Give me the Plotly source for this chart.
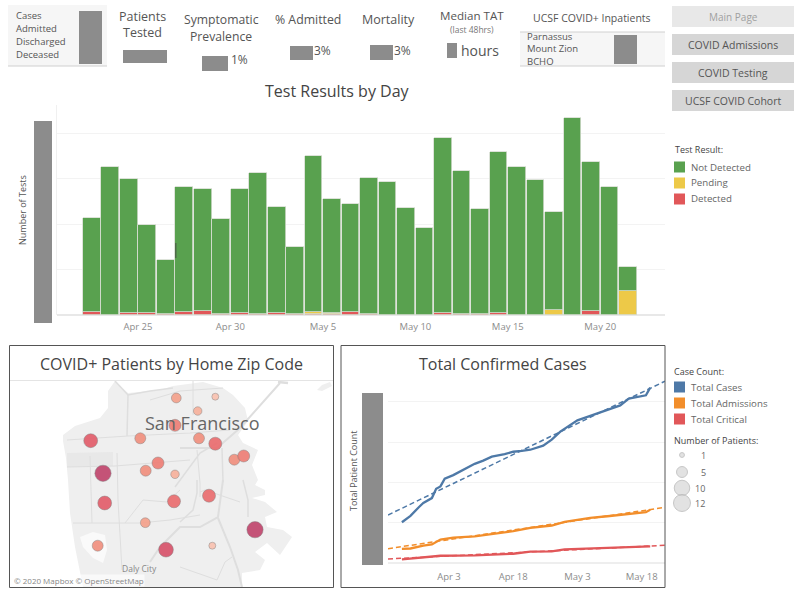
import plotly.graph_objects as go

W, H = 800, 596

# Test Results by Day
bar_days = ["2020-04-%02d" % d for d in range(22, 31)] + ["2020-05-%02d" % d for d in range(1, 22)]
bar_total = [107, 163, 150, 99, 61, 141, 138, 106, 139, 156, 119, 75, 175, 128, 122,
             151, 146, 118, 96, 194, 158, 117, 179, 163, 148, 113, 216, 168, 141, 53]
bar_detected = [3.5, 0.5, 2.5, 2.5, 1, 3, 4, 0.7, 2, 0.7, 2, 0.7, 1, 1, 3,
                1, 0, 0, 0, 2, 1, 1, 2, 0.5, 0, 0, 0, 4, 0.5, 0.5]
bar_pending = [0, 0, 0, 0, 0, 0, 0, 0, 0, 0, 0, 0, 2, 1, 0,
               0, 0, 0, 0, 0, 0, 0, 0, 0, 0, 5, 0, 0, 0, 26]
bar_not_detected = [t - d - p for t, d, p in zip(bar_total, bar_detected, bar_pending)]
bar_ticks = ["2020-04-25", "2020-04-30", "2020-05-05", "2020-05-10", "2020-05-15", "2020-05-20"]
bar_tick_labels = ["Apr 25", "Apr 30", "May 5", "May 10", "May 15", "May 20"]

# Total Confirmed Cases
cases_days = ["2020-03-23", "2020-03-25", "2020-03-27", "2020-03-28", "2020-03-30", "2020-03-31",
              "2020-04-01", "2020-04-02", "2020-04-04", "2020-04-06", "2020-04-09", "2020-04-11",
              "2020-04-13", "2020-04-16", "2020-04-18", "2020-04-20", "2020-04-22", "2020-04-25",
              "2020-04-27", "2020-04-29", "2020-05-01", "2020-05-03", "2020-05-06", "2020-05-08",
              "2020-05-10", "2020-05-13", "2020-05-15", "2020-05-17", "2020-05-19", "2020-05-20"]
cases_total = [101, 117, 139, 149, 161, 184, 190, 209, 218, 230, 246, 254, 264, 270, 276,
               278, 281, 291, 306, 326, 340, 354, 365, 372, 380, 391, 408, 412, 416, 435]
adm_days = ["2020-03-23", "2020-03-25", "2020-03-28", "2020-03-30", "2020-04-01", "2020-04-04",
            "2020-04-09", "2020-04-13", "2020-04-18", "2020-04-22", "2020-04-25", "2020-04-27",
            "2020-04-30", "2020-05-03", "2020-05-06", "2020-05-10", "2020-05-15", "2020-05-19",
            "2020-05-20"]
adm_total = [35, 36, 43, 46, 58, 63, 66, 72, 79, 87, 91, 93, 102, 107, 112, 116, 122, 126, 132]
crit_days = ["2020-03-23", "2020-03-25", "2020-03-30", "2020-04-01", "2020-04-09", "2020-04-18",
             "2020-04-22", "2020-04-27", "2020-04-30", "2020-05-03", "2020-05-06", "2020-05-13",
             "2020-05-20"]
crit_total = [9, 11, 15, 18, 19, 23, 28, 29, 34, 35, 36, 37, 41]
trend_days = ["2020-03-19 18:00", "2020-05-23 11:00"]
trend_cases = [119, 451]
trend_adm = [35.5, 138]
trend_crit = [10, 44]
line_ticks = ["2020-04-03", "2020-04-18", "2020-05-03", "2020-05-18"]
line_tick_labels = ["Apr 3", "Apr 18", "May 3", "May 18"]

# Zip code map, in map units
zip_x = [176.3, 215.3, 197.7, 175, 90.7, 140.3, 199, 215.3, 234.3, 243.7, 158,
         145.7, 103, 175, 104.7, 174, 209, 145.3, 97.7, 212.3, 166, 255]
zip_y = [398, 396.7, 411, 425.3, 440.7, 438.3, 438.3, 443.7, 459.7, 456, 463,
         470.7, 473.3, 474.3, 503, 501.3, 495.7, 522.7, 545.7, 545.7, 549.7, 529.7]
zip_patients = [4, 2, 3, 6, 8, 5, 5, 7, 5, 6, 6, 5, 11, 3, 8, 7, 7, 4, 5, 2, 9, 11]

land_x = [115, 108, 108, 100, 75, 63, 63, 66, 68, 70, 75, 83, 242, 242, 260, 265, 255, 267, 280, 292,
          283, 267, 265, 277, 265, 252, 265, 265, 255, 258, 252, 258, 243, 238, 248, 245, 233, 223,
          203, 173, 160, 147, 128, 115]
land_y = [381, 391, 408, 418, 426, 435, 441, 458, 480, 513, 547, 587, 587, 573, 570, 560, 552, 543, 555, 537,
          530, 527, 517, 512, 502, 498, 495, 490, 485, 480, 465, 450, 443, 435, 421, 408, 395, 388,
          382, 386, 390, 391, 393, 381]
park_x = [67, 113, 113, 67, 67]
park_y = [453, 452, 466, 467, 453]
lake_x = [80, 93, 105, 107, 103, 93, 83, 80]
lake_y = [537, 532, 535, 550, 563, 558, 547, 537]
island_x = [317, 322, 330, 332, 322, 317]
island_y = [390, 385, 382, 386, 391, 390]
roads = [
    ([115, 128, 150, 173], [381, 395, 391, 388], 1.5),
    ([128, 127], [395, 436], 1.5),
    ([67, 128, 190, 230], [440, 436, 433, 430], 1.2),
    ([67, 115, 190], [467, 466, 460], 1),
    ([90, 92], [456, 523], 1),
    ([117, 118, 122], [453, 500, 570], 1),
    ([73, 140, 170, 200], [523, 523, 520, 515], 1),
    ([125, 143, 167, 180], [523, 500, 502, 490], 1),
    ([223, 218, 200, 180, 160, 150], [480, 517, 527, 527, 547, 562], 2),
    ([218, 230, 238, 242], [518, 547, 570, 587], 2),
    ([243, 248, 248], [480, 500, 517], 1.5),
    ([180, 193, 197, 197], [522, 510, 493, 480], 1.5),
    ([222, 223, 223], [448, 475, 482], 1.5),
    ([197, 200, 200], [450, 483, 497], 1),
    ([180, 217, 240, 280], [448, 448, 428, 383], 2),
    ([175, 200, 217], [487, 453, 443], 1.5),
    ([193, 193], [381, 415], 1),
    ([150, 180, 223], [400, 391, 388], 1),
    ([180, 217, 225, 232], [567, 580, 562, 557], 1),
    ([240, 205, 200], [502, 490, 492], 1),
    ([278, 288], [382, 383], 2.5),
]
# Size legend
legend_patients = [1, 5, 10, 12]
legend_y = [455, 472, 488, 503]
legend_x = [682, 682, 682, 682]


def px(x):
    return x / W


def py(y):
    return 1 - y / H


def note(text, x, y, size=10, color="#555555", anchor="center", angle=0):
    annotations.append(dict(text=text, x=px(x), y=py(y), xref="paper", yref="paper",
                            xanchor=anchor, yanchor="middle", showarrow=False, textangle=angle,
                            font=dict(size=size, color=color), align=anchor if anchor == "left" else "center"))


def box(x0, y0, x1, y1, fill=None, line=None, layer="below"):
    shapes.append(dict(type="rect", xref="paper", yref="paper", x0=px(x0), x1=px(x1),
                       y0=py(y0), y1=py(y1), layer=layer,
                       fillcolor=fill if fill else "rgba(0,0,0,0)",
                       line=dict(color=line, width=1) if line else dict(width=0)))


def hidden(x0, y0, x1, y1):
    box(x0, y0, x1, y1, fill="#8c8c8c", layer="above")


annotations = []
shapes = []
fig = go.Figure()

# bars
for name, vals, col in [("Detected", bar_detected, "#e15759"),
                        ("Pending", bar_pending, "#edc948"),
                        ("Not Detected", bar_not_detected, "#59a14f")]:
    fig.add_trace(go.Bar(x=bar_days, y=vals, name=name, marker_color=col,
                         marker_line=dict(color="#d4dcd0", width=0.8),
                         xperiod=86400000, xperiodalignment="middle",
                         width=0.96 * 86400000, xaxis="x", yaxis="y"))

# lines
for days, vals, col in [(cases_days, cases_total, "#4e79a7"),
                        (adm_days, adm_total, "#f28e2b"),
                        (crit_days, crit_total, "#e15759")]:
    fig.add_trace(go.Scatter(x=days, y=vals, mode="lines", line=dict(color=col, width=2.3),
                             xaxis="x2", yaxis="y2"))
for vals, col in [(trend_cases, "#4e79a7"), (trend_adm, "#f28e2b"), (trend_crit, "#e15759")]:
    fig.add_trace(go.Scatter(x=trend_days, y=vals, mode="lines",
                             line=dict(color=col, width=1.5, dash="5px,3px"),
                             xaxis="x2", yaxis="y2"))

# map
fig.add_trace(go.Scatter(x=land_x, y=land_y, mode="lines", fill="toself", fillcolor="#efefef",
                         line=dict(width=0), xaxis="x3", yaxis="y3"))
fig.add_trace(go.Scatter(x=island_x, y=island_y, mode="lines", fill="toself", fillcolor="#efefef",
                         line=dict(width=0), xaxis="x3", yaxis="y3"))
fig.add_trace(go.Scatter(x=park_x, y=park_y, mode="lines", fill="toself", fillcolor="#e8e8e8",
                         line=dict(width=0), xaxis="x3", yaxis="y3"))
fig.add_trace(go.Scatter(x=lake_x, y=lake_y, mode="lines", fill="toself", fillcolor="#fafafa",
                         line=dict(width=0), xaxis="x3", yaxis="y3"))
for rx, ry, rw in roads:
    fig.add_trace(go.Scatter(x=rx, y=ry, mode="lines", line=dict(color="#dedede", width=rw),
                             xaxis="x3", yaxis="y3"))
fig.add_trace(go.Scatter(
    x=zip_x, y=zip_y, mode="markers", xaxis="x3", yaxis="y3",
    marker=dict(size=zip_patients, sizemode="area", sizeref=0.0832, sizemin=2,
                color=zip_patients, cmin=1, cmax=12, opacity=0.92,
                colorscale=[[0, "#fbd3c4"], [0.25, "#f5a58f"], [0.4, "#f0897a"],
                            [0.6, "#e8636b"], [0.8, "#cf4a6b"], [1, "#b5436f"]],
                line=dict(color="rgba(120,120,120,0.45)", width=1))))

# size legend
fig.add_trace(go.Scatter(x=legend_x, y=legend_y, mode="markers", xaxis="x4", yaxis="y4",
                         marker=dict(size=legend_patients, sizemode="area", sizeref=0.0832,
                                     color="#d6d6d6", line=dict(color="#b0b0b0", width=1))))

# top row
box(8, 5, 107, 66, fill="#f6f6f6")
shapes.append(dict(type="line", xref="paper", yref="paper", x0=px(8), x1=px(107), y0=py(66), y1=py(66),
                   line=dict(color="#d0d0d0", width=1)))
for label, y in zip(["Cases", "Admitted", "Discharged", "Deceased"], [15, 28, 41.5, 54.5]):
    note(label, 14, y, 9.5, "#555555", "left")
hidden(79, 11, 102, 64)

note("Patients", 142, 17, 12.5)
note("Tested", 142, 33, 12.5)
hidden(123, 50, 167, 63)
note("Symptomatic", 221, 20, 12.2)
note("Prevalence", 221, 36, 12.2)
note("1%", 229, 60, 12, anchor="left")
hidden(202, 56, 228, 71)
note("% Admitted", 308, 20, 12.3)
note("3%", 312, 51, 12, anchor="left")
hidden(290, 46, 313, 60)
note("Mortality", 388, 20, 12.5)
note("3%", 392, 51, 12, anchor="left")
hidden(370, 45, 393, 60)
note("Median TAT", 472, 16, 11.6)
note("(last 48hrs)", 472, 30, 8.5, "#777777")
hidden(447, 43, 457, 58)
note("hours", 459, 51, 14, anchor="left")
note("UCSF COVID+ Inpatients", 592, 18, 10.5)
box(520, 32, 665, 66, fill="#f6f6f6")
shapes.append(dict(type="line", xref="paper", yref="paper", x0=px(520), x1=px(665), y0=py(66), y1=py(66),
                   line=dict(color="#d0d0d0", width=1)))
shapes.append(dict(type="line", xref="paper", yref="paper", x0=px(520), x1=px(665), y0=py(32), y1=py(32),
                   line=dict(color="#d0d0d0", width=1)))
note("Parnassus<br>Mount Zion<br>BCHO", 525, 49, 9.5, anchor="left")
hidden(614, 35, 637, 64)

box(672, 6, 794, 27, fill="#e8e8e8")
note("Main Page", 733, 17, 10, "#a0a0a0")
for label, y0 in zip(["COVID Admissions", "COVID Testing", "UCSF COVID Cohort"], [34, 62, 90]):
    box(672, y0, 794, y0 + 21, fill="#d6d6d6")
    note(label, 733, y0 + 11, 10.5, "#555555")

# bar panel text
note("Test Results by Day", 337, 91, 16, "#444444")
note("Number of Tests", 22, 210, 9, angle=-90)
hidden(34, 121, 52, 323)
box(175, 243, 176.5, 258, fill="#4f6b4a", layer="above")
note("Test Result:", 673, 149, 9, "#444444", "left")
for label, col, y in zip(["Not Detected", "Pending", "Detected"],
                         ["#59a14f", "#edc948", "#e15759"], [167, 183, 199]):
    box(674, y - 5.5, 685, y + 5.5, fill=col)
    note(label, 689, y, 9.7, "#666666", "left")

# bottom panels
box(9.5, 345.5, 333.5, 587.5, line="#555555", layer="above")
box(341, 345.5, 665, 587.5, line="#555555", layer="above")
shapes.append(dict(type="line", xref="paper", yref="paper", x0=px(10), x1=px(333), y0=py(380.5), y1=py(380.5),
                   line=dict(color="#e4e4e4", width=1)))
note("COVID+ Patients by Home Zip Code", 171, 364, 16, "#444444")
note("San Francisco", 202, 423, 18, "#666666")
note("Daly City", 139, 568, 8.5, "#888888")
annotations.append(dict(text="© 2020 Mapbox © OpenStreetMap", x=px(13), y=py(580), xref="paper", yref="paper",
                        xanchor="left", yanchor="middle", showarrow=False, bgcolor="rgba(255,255,255,0.6)",
                        borderpad=0, font=dict(size=8, color="#888888")))
note("Total Confirmed Cases", 503, 364, 16, "#444444")
note("Total Patient Count", 353, 471, 9, angle=-90)
hidden(362, 393, 383, 565)

note("Case Count:", 672, 371, 9, "#444444", "left")
for label, col, y in zip(["Total Cases", "Total Admissions", "Total Critical"],
                         ["#4e79a7", "#f28e2b", "#e15759"], [387, 403, 419]):
    box(674, y - 5.5, 685, y + 5.5, fill=col)
    note(label, 689, y, 9.7, "#666666", "left")
note("Number of Patients:", 672, 440, 9, "#444444", "left")
for label, x, y in zip(["1", "5", "10", "12"], [703, 703, 700, 700], legend_y):
    note(label, x, y, 9, "#666666")

grid = "#f3f3f3"
fig.update_layout(
    width=W, height=H, margin=dict(l=0, r=0, t=0, b=0),
    paper_bgcolor="white", plot_bgcolor="rgba(0,0,0,0)",
    barmode="stack", showlegend=False, bargap=0,
    font=dict(family="Open Sans, sans-serif", color="#555555"),
    annotations=annotations, shapes=shapes,
    xaxis=dict(domain=[px(57), px(665)], anchor="y", type="date",
               range=["2020-04-20 15:00", "2020-05-23 12:00"],
               tickvals=bar_ticks, ticktext=bar_tick_labels, showgrid=False,
               ticks="outside", ticklen=3, tickcolor="rgba(0,0,0,0)", tickfont=dict(size=9.5, color="#8c8c8c")),
    yaxis=dict(domain=[py(315), py(105)], anchor="x", range=[0, 230.8],
               tickvals=[0, 50, 100, 150, 200], showticklabels=False, gridcolor=grid,
               zeroline=True, zerolinecolor="#e8e8e8", showline=True, linecolor="#f0f0f0"),
    xaxis2=dict(domain=[px(388), px(665)], anchor="y2", type="date",
                range=trend_days, tickvals=line_ticks, ticktext=line_tick_labels, showgrid=False,
                ticks="outside", ticklen=5, tickcolor="rgba(0,0,0,0)", tickfont=dict(size=9.5, color="#8c8c8c")),
    yaxis2=dict(domain=[py(563), py(380)], anchor="x2", range=[0, 454],
                tickvals=[0, 100, 200, 300, 400], showticklabels=False, gridcolor=grid,
                zeroline=True, zerolinecolor="#eeeeee"),
    xaxis3=dict(domain=[px(10), px(333)], anchor="y3", range=[10, 333], visible=False),
    yaxis3=dict(domain=[py(587), py(381)], anchor="x3", range=[587, 381], visible=False),
    xaxis4=dict(domain=[0, 1], anchor="y4", range=[0, W], visible=False),
    yaxis4=dict(domain=[0, 1], anchor="x4", range=[H, 0], visible=False),
)

# the page's default body margin would push the chart 8px off
fig.write_html("out.html", config={"displayModeBar": False},
               post_script="document.body.style.margin = '0';")
